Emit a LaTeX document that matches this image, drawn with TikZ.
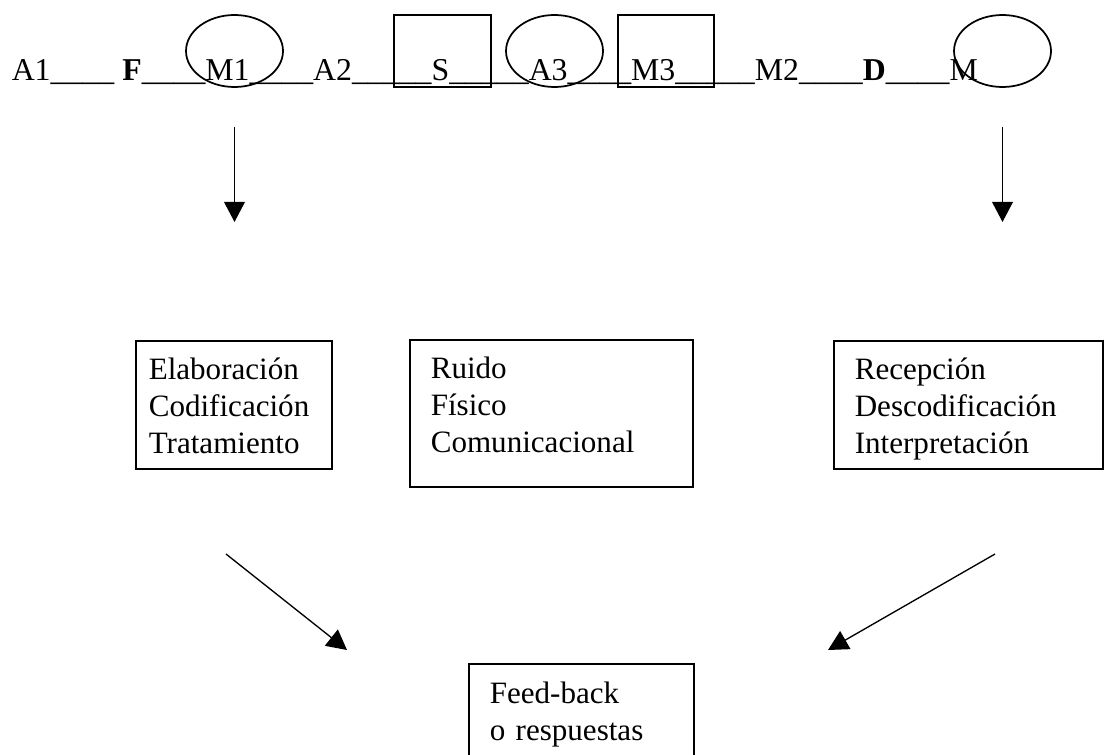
\documentclass[tikz,border=0pt]{standalone}
\usepackage{fontspec}
\setmainfont{Liberation Serif}
\usetikzlibrary{shapes.geometric, arrows.meta}
\usetikzlibrary{positioning}
\tikzstyle{oval} = [ellipse, draw=black, line width=1.3pt, minimum width=72.75pt,
minimum height=54pt, inner sep=0pt]
\tikzstyle{sqbox} = [rectangle, draw=black, line width=1.3pt, minimum width=72.5pt,
minimum height=54pt, inner sep=0pt]
\tikzstyle{txtbox} = [rectangle, draw=black, line width=1.2pt, anchor=north west, align=left,
inner xsep=15.75pt, inner ysep=0pt, text height=29.25pt, font=\fontsize{23.3pt}{27.75pt}\selectfont]
\tikzstyle{arrow} = [line width=1pt, -{Triangle[length=15pt, width=15.5pt]}]

\begin{document}
\begin{tikzpicture} [x=0.75pt, y=-0.75pt]
    \clip (0,0) rectangle (1119,755);
    \node (chain) [anchor=base west, inner sep=0pt, font=\fontsize{23.85pt}{27.75pt}\selectfont] at (11.5,81)
        {A1\_\_\_\_ \textbf{F}\_\_\_\_M1\_\_\_\_A2\_\_\_\_\_S\_\_\_\_\_A3\_\_\_\_M3\_\_\_\_\_M2\_\_\_\_\textbf{D}\_\_\_\_M};
    \node (ovM1) [oval] at (234.5,51) {};
    \node (sqS) [sqbox] at (442.5,51) {};
    \node (ovA3) [oval] at (554.5,51) {};
    \node (sqM3) [sqbox] at (666,51) {};
    \node (ovM) [oval] at (1002.5,51) {};

    \node (elab) [txtbox, inner xsep=9.75pt, text width=127.5pt, text depth=66.75pt] at (135,340)
        {Elaboración\\Codificación\\Tratamiento};
    \node (ruido) [txtbox, text width=180.75pt, text depth=81pt] at (409,339)
        {Ruido\\Físico\\Comunicacional};
    \node (recep) [txtbox, text width=170.25pt, text depth=66.75pt] at (833,340)
        {Recepción\\Descodificación\\Interpretación};
    \node (fback) [txtbox, text width=137.25pt, text height=30pt, text depth=70pt] at (468,663)
        {Feed-back\\o respuestas};

    \coordinate (inL) at (226,554);
    \coordinate (outL) at (347,650);
    \coordinate (inR) at (995,554);
    \coordinate (outR) at (828,650);

    \draw[arrow, shorten <=29.25pt, shorten >=88.5pt] (ovM1.south) -- (ovM1.south |- elab.north);
    \draw[arrow, shorten <=29.25pt, shorten >=88.5pt] (ovM.south) -- (ovM.south |- recep.north);
    \draw[arrow] (inL) -- (outL);
    \draw[arrow] (inR) -- (outR);

\end{tikzpicture}
\end{document}
